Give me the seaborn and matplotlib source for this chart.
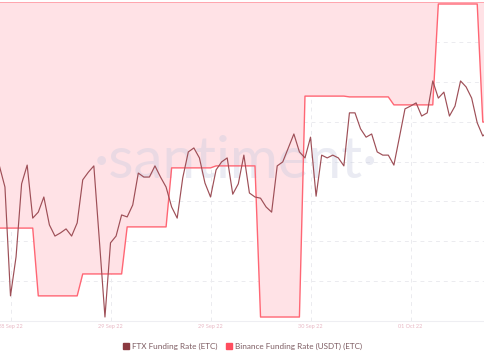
import matplotlib
matplotlib.use("Agg")
import matplotlib.pyplot as plt
import numpy as np
import pandas as pd
import seaborn as sns
from matplotlib.lines import Line2D

# hourly samples starting 28 Sep 2022 04:00 (values in chart units, no y scale shown)
start = pd.Timestamp("2022-09-28 04:00")

ftx_rate = [
    3.89, 3.36, 0.63, 1.61, 3.44, 3.91, 2.58, 2.73, 3.11, 2.41,
    2.13, 2.21, 2.31, 2.13, 2.46, 3.54, 3.73, 3.89, 2.01, 0.10,
    1.96, 2.13, 2.66, 2.61, 2.91, 3.71, 3.61, 3.61, 3.89, 3.61,
    3.36, 2.86, 2.58, 3.59, 4.24, 4.34, 4.09, 3.46, 3.11, 3.79,
    3.99, 4.09, 3.18, 3.44, 4.16, 3.21, 3.11, 3.08, 2.86, 2.73,
    3.89, 3.99, 4.34, 4.69, 4.24, 4.09, 4.61, 3.13, 4.16, 4.09,
    4.16, 4.09, 3.89, 5.22, 5.22, 4.82, 4.61, 4.69, 4.24, 4.16,
    4.16, 3.91, 4.61, 5.32, 5.39, 5.47, 5.14, 5.22, 6.02, 5.59,
    5.74, 5.14, 5.39, 6.02, 5.87, 5.59, 4.97, 4.64, 4.76,
]

# Binance funding, one value per 8h period
binance_periods = [2.33, 0.63, 1.18, 2.36, 3.84, 3.89, 0.10, 5.64, 5.62, 5.42, 7.95, 4.99]
binance_hours = [7, 8, 8, 8, 8, 8, 8, 8, 8, 8, 8, 2]
binance_rate = [v for v, n in zip(binance_periods, binance_hours) for _ in range(n)]

tick_times = ["2022-09-28 06:00", "2022-09-29 00:00", "2022-09-29 18:00",
              "2022-09-30 12:00", "2022-10-01 06:00"]
tick_labels = ["28 Sep 22", "29 Sep 22", "29 Sep 22", "30 Sep 22", "01 Oct 22"]

times = pd.date_range(start, periods=len(ftx_rate), freq="h")
df = pd.DataFrame({"time": times, "ftx": ftx_rate, "binance": binance_rate})

FTX_COLOR = "#9e4f57"
BIN_COLOR = "#ff6674"
FILL_COLOR = "#ffe2e6"

sns.set_style("white")
plt.rcParams["font.family"] = ["Lato", "DejaVu Sans"]

fig = plt.figure(figsize=(4.85, 3.6), dpi=100)
ax = fig.add_axes([0, 39 / 360, 1, 319 / 360])

top = 8.0
ax.fill_between(df["time"], df["binance"], top, color=FILL_COLOR, linewidth=0, zorder=1)
ax.axhline(top, color="#ff9aa4", linewidth=1.2, zorder=2)

ax.text(0.486, 0.5, "\u00b7santiment\u00b7", transform=ax.transAxes, ha="center", va="center",
        fontsize=42, color="#c8cce0", alpha=0.38, zorder=2)

sns.lineplot(data=df, x="time", y="binance", color=BIN_COLOR, linewidth=1.0, ax=ax, zorder=3)
sns.lineplot(data=df, x="time", y="ftx", color=FTX_COLOR, linewidth=0.85, ax=ax, zorder=4)

ax.set_xlim(start + pd.Timedelta(hours=0.11), start + pd.Timedelta(hours=87.4))
ax.set_ylim(0, top)

ax.set_yticks(np.arange(0, 8, 1))
ax.set_xticks(pd.to_datetime(tick_times))
ax.set_xticklabels(tick_labels)
ax.grid(True, color="#ebebef", linestyle=(0, (4, 4)), linewidth=0.7)
for line in ax.get_xgridlines() + ax.get_ygridlines():
    line.set_zorder(1.5)

ax.tick_params(axis="x", length=0, pad=2.5, labelsize=4.0, labelcolor="#e8b8c4")
ax.tick_params(axis="y", length=0, labelleft=False)
ax.set_xlabel("")
ax.set_ylabel("")
for side in ["left", "right", "top"]:
    ax.spines[side].set_visible(False)
ax.spines["bottom"].set_color("#eeeef2")
ax.spines["bottom"].set_linewidth(0.8)

handles = [
    Line2D([], [], marker="s", linestyle="", color="#8b3a40", markersize=4.2),
    Line2D([], [], marker="s", linestyle="", color="#ff4d5e", markersize=4.2),
]
fig.legend(handles, ["FTX Funding Rate (ETC)", "Binance Funding Rate (USDT) (ETC)"],
           loc="center", bbox_to_anchor=(0.5, 14 / 360), ncol=2, frameon=False,
           fontsize=5.9, handletextpad=0.35, columnspacing=0.9, labelcolor="#7d5c62",
           handlelength=0.8)

fig.savefig("out.png", dpi=100)
